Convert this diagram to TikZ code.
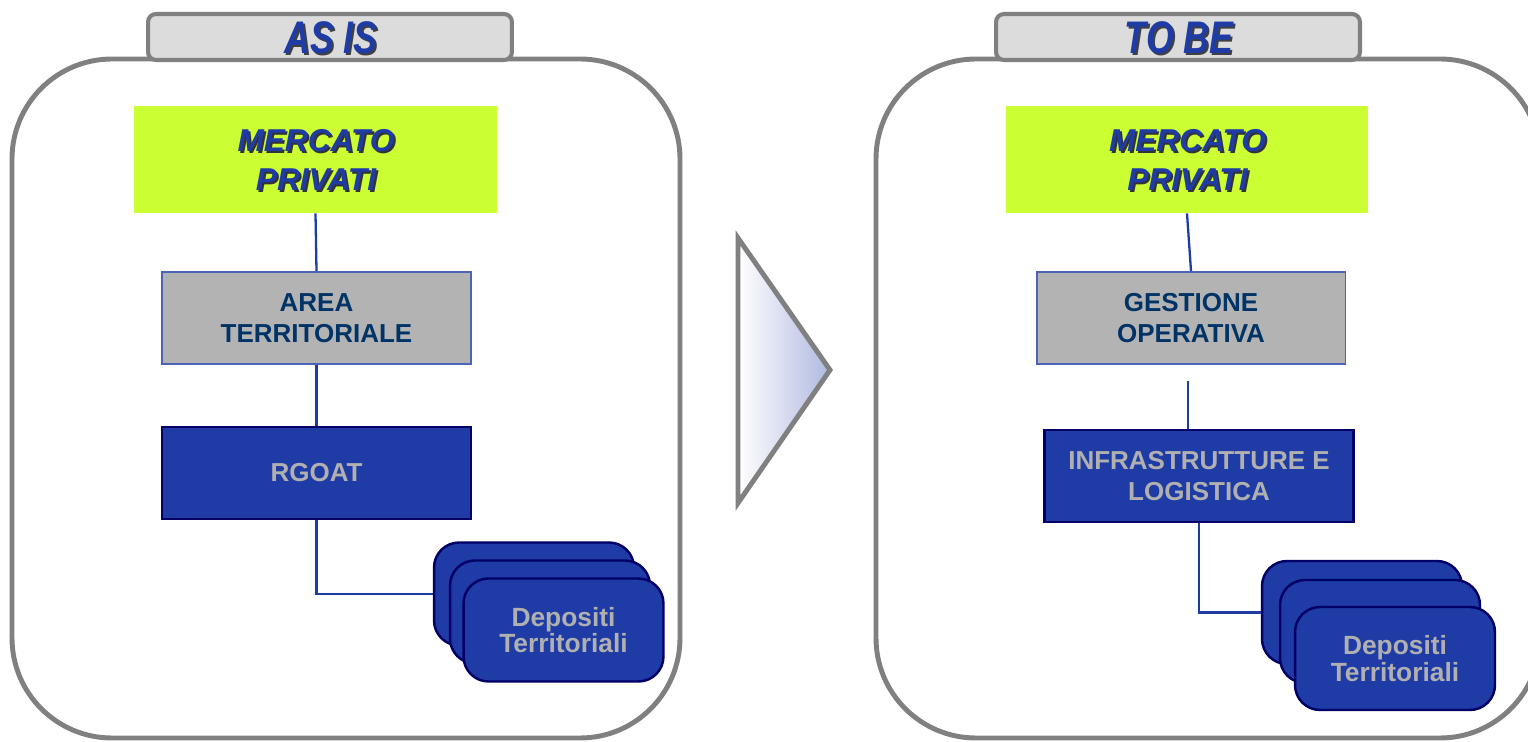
\documentclass[tikz,border=0pt]{standalone}
\usepackage{fontspec}
\setmainfont{Liberation Sans}
\usetikzlibrary{calc, positioning}

\definecolor{frame}{HTML}{808080}
\definecolor{tabfill}{HTML}{DCDCDC}
\definecolor{lime}{HTML}{CCFF33}
\definecolor{boxgray}{HTML}{B3B3B3}
\definecolor{royal}{HTML}{1F3CA6}
\definecolor{navy}{HTML}{000066}
\definecolor{darktext}{HTML}{003366}
\definecolor{lighttext}{HTML}{B0B0B0}
\definecolor{arrowblue}{HTML}{B0B9E0}

\tikzset{
	panel/.style = {draw=frame, line width=2.8pt, rounded corners=2cm},
	tab/.style = {draw=frame, fill=tabfill, line width=2.3pt, rounded corners=0.16cm,
		minimum width=7.28cm, minimum height=0.92cm, inner sep=0pt},
	tabtext/.style = {font=\fontsize{26}{28}\selectfont\bfseries\itshape, xscale=0.78, inner sep=0pt},
	market/.style = {fill=lime, minimum width=7.26cm, minimum height=2.14cm, inner sep=0pt},
	markettext/.style = {font=\fontsize{18}{22.7}\selectfont\bfseries\itshape, align=center, inner sep=0pt},
	graybox/.style = {draw=royal!80, fill=boxgray, line width=1.1pt, minimum width=6.18cm, minimum height=1.84cm,
		inner sep=0pt, align=center, text=darktext, font=\fontsize{14.8}{18}\selectfont\bfseries},
	bluebox/.style = {draw=navy, fill=royal, line width=1.5pt, minimum width=6.18cm, minimum height=1.84cm,
		inner sep=0pt, align=center, text=lighttext, font=\fontsize{14.8}{18}\selectfont\bfseries},
	card/.style = {draw=navy, fill=royal, line width=1.4pt, rounded corners=0.5cm, minimum width=4cm,
		minimum height=2.06cm, inner sep=0pt, align=center, text=lighttext, font=\fontsize{15}{15}\selectfont\bfseries},
	link/.style = {draw=royal, line width=1.3pt}
}

\begin{document}
\begin{tikzpicture}[x=0.02cm, y=0.02cm]
		%page
		\clip (0,0) rectangle (1528,741);
		\fill[white] (0,0) rectangle (1528,741);
		
		%panels
		\draw[panel] (12,682) rectangle (680,3);
		\draw[panel] (876,682) rectangle (1540,3);
		
		%tabs
		\node[tab] (tabL) at (330,704) {};
		\node[tab] (tabR) at (1178,704) {};
		\node[tabtext, text=black!75] (tabLs) at (333,701) {AS IS};
		\node[tabtext, text=royal] (tabLt) at (331,703) {AS IS};
		\node[tabtext, text=black!75] (tabRs) at (1181,701) {TO BE};
		\node[tabtext, text=royal] (tabRt) at (1179,703) {TO BE};
		
		%arrow between panels
		\draw[draw=frame, line width=2.8pt, left color=white, right color=arrowblue]
			(738,503) -- (830,371) -- (738,238) -- cycle;
		
		%as is
		\node[market] (marketL) at (315.5,581.5) {};
		\node[markettext, text=black!80] (marketLs) at (318,579) {MERCATO\\ PRIVATI};
		\node[markettext, text=royal] (marketLt) at (316,581) {MERCATO\\ PRIVATI};
		\node[graybox] (area) at (316.5,423) {AREA\\ TERRITORIALE};
		\node[bluebox] (rgoat) at (316.5,268) {RGOAT};
		\node[card] (depLa) at (534,147) {};
		\node[card] (depLb) at (550,129) {};
		\node[card] (depLc) at (563.5,111) {Depositi\\ Territoriali};
		
		\draw[link] (marketL.south) -- (area.north);
		\draw[link] (area.south) -- (rgoat.north);
		\draw[link] (rgoat.south) |- (depLa.west);
		
		%to be
		\node[market] (marketR) at (1187,581.5) {};
		\node[markettext, text=black!80] (marketRs) at (1189.5,579) {MERCATO\\ PRIVATI};
		\node[markettext, text=royal] (marketRt) at (1187.5,581) {MERCATO\\ PRIVATI};
		\node[graybox] (gestione) at (1191,423) {GESTIONE\\ OPERATIVA};
		\node[bluebox] (infra) at (1199,265) {INFRASTRUTTURE E\\ LOGISTICA};
		\node[card] (depRa) at (1362,128.5) {};
		\node[card] (depRb) at (1380,109.5) {};
		\node[card] (depRc) at (1395,82.5) {Depositi\\ Territoriali};
		\coordinate (gapR) at (1188,360);
		
		\draw[link] (marketR.south) -- (gestione.north);
		\draw[link] (gapR) -- (gapR |- infra.north);
		\draw[link] (infra.south) |- (depRa.west);
	\end{tikzpicture}
\end{document}
